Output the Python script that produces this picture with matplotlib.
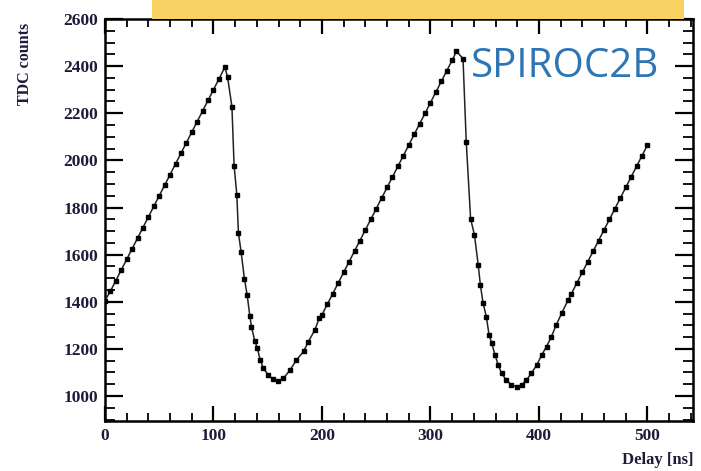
import matplotlib
matplotlib.use("Agg")
import matplotlib.pyplot as plt
from matplotlib.patches import Rectangle
from matplotlib.ticker import MultipleLocator

# TDC response vs. injected delay (ns)
delay_ns = [
    0, 5, 10, 15, 20, 25, 30, 35, 40, 45, 50, 55, 60, 65, 70, 75, 80, 85, 90, 95,
    100, 105, 110.5, 113, 117, 119, 121.5, 123, 125.5, 128.5, 131, 133.5, 135,
    138, 140.5, 143, 146, 150.5, 155, 159.5, 164.5, 170.5, 176.5, 183, 187.5,
    193.5, 197.5,
    200, 205, 210, 215, 220, 225, 230, 235, 240, 245, 250, 255, 260, 265, 270,
    275, 280, 285, 290, 295, 300, 305, 310, 315, 320, 324, 330, 333, 337, 340.5,
    344, 346, 348.5, 351.5, 354, 356.5, 359.5, 362.5, 365.5, 370, 374.5, 379.5,
    384, 388.5, 393, 398, 402.5, 407, 411.5, 416, 421, 427,
    430, 435, 440, 445, 450, 455, 460, 465, 470, 475, 480, 485, 490, 495, 500,
]
tdc_counts = [
    1405, 1445, 1490, 1535, 1580, 1625, 1670, 1715, 1760, 1805, 1850, 1895, 1940,
    1985, 2030, 2075, 2120, 2165, 2210, 2255, 2300, 2345, 2396, 2353, 2228, 1977,
    1855, 1692, 1610, 1498, 1430, 1340, 1295, 1234, 1203, 1153, 1118, 1089, 1071,
    1064, 1075, 1110, 1153, 1189, 1231, 1281, 1331,
    1345, 1390, 1435, 1480, 1525, 1570, 1615, 1660, 1705, 1750, 1795, 1840, 1885,
    1930, 1975, 2020, 2065, 2110, 2155, 2200, 2245, 2290, 2335, 2380, 2425, 2463,
    2432, 2078, 1752, 1685, 1557, 1472, 1394, 1337, 1260, 1224, 1174, 1132, 1096,
    1068, 1047, 1040, 1047, 1068, 1096, 1132, 1174, 1210, 1252, 1302, 1352, 1408,
    1435, 1480, 1525, 1570, 1615, 1660, 1705, 1750, 1795, 1840, 1885, 1930, 1975,
    2020, 2065,
]

x_ticks = [0, 100, 200, 300, 400, 500]
y_ticks = [1000, 1200, 1400, 1600, 1800, 2000, 2200, 2400, 2600]

serif = ["Liberation Serif", "DejaVu Serif"]

fig = plt.figure(figsize=(7.01, 4.71), dpi=100)
fig.patch.set_facecolor("white")

ax = fig.add_axes([105 / 701, 1 - 421 / 471, (693 - 105) / 701, (421 - 19) / 471])
ax.plot(delay_ns, tdc_counts, color="#222222", lw=1.1, marker="s",
        markersize=3.4, markerfacecolor="black", markeredgecolor="black", zorder=3)

ax.set_xlim(0, 542)
ax.set_ylim(894, 2600)
ax.set_xticks(x_ticks)
ax.set_yticks(y_ticks)
ax.xaxis.set_minor_locator(MultipleLocator(20))
ax.yaxis.set_minor_locator(MultipleLocator(50))

for side in ax.spines.values():
    side.set_linewidth(1.8)
    side.set_color("black")

ax.tick_params(axis="both", which="both", direction="in", top=True, right=True,
               colors="black")
ax.tick_params(axis="y", which="major", length=13, width=1.6, pad=5)
ax.tick_params(axis="y", which="minor", length=7, width=1.3)
ax.tick_params(axis="x", which="major", length=11, width=1.6, pad=5)
ax.tick_params(axis="x", which="minor", length=6, width=1.3)

for lbl in ax.get_xticklabels() + ax.get_yticklabels():
    lbl.set_fontfamily(serif)
    lbl.set_fontweight("bold")
    lbl.set_fontsize(12.5)
    lbl.set_color("#1c1c3a")

ax.text(1.0, -0.098, "Delay [ns]", transform=ax.transAxes, ha="right", va="center",
        fontfamily=serif, fontweight="bold", fontsize=12, color="#1c1c3a")
fig.text(25 / 701, 1 - 64 / 471, "TDC counts", rotation=90, ha="center",
         va="center", fontfamily=serif, fontweight="bold", fontsize=11.5,
         color="#1c1c3a")

ax.text(0.622, 0.880, "SPIROC2B", transform=ax.transAxes, ha="left", va="center",
        fontfamily=["Open Sans", "DejaVu Sans"], fontsize=29, color="#2E75B6")

# header banner along the top edge
fig.add_artist(Rectangle((152 / 701, 1 - 19 / 471), (684 - 152) / 701, 19 / 471,
                         transform=fig.transFigure, facecolor="#F8D262",
                         edgecolor="none", zorder=5))

fig.savefig("out.png", dpi=100)
